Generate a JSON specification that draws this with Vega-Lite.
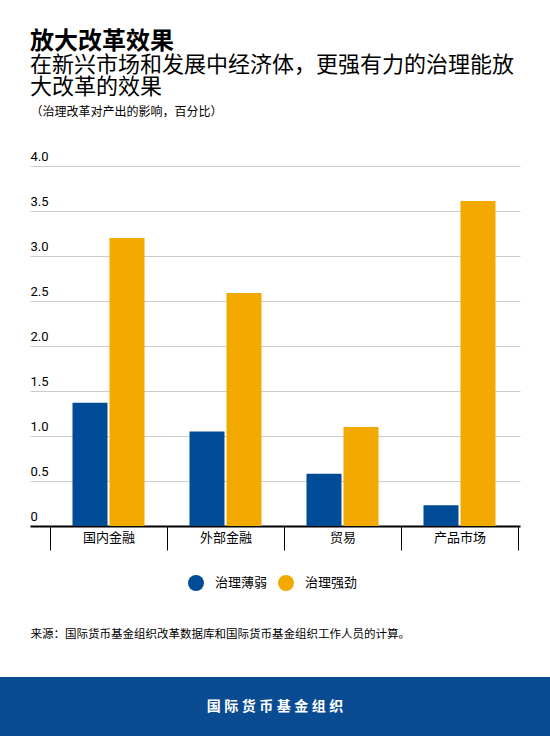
{
  "$schema": "https://vega.github.io/schema/vega-lite/v6.json",
  "padding": {"top": 30, "left": 0, "right": 0, "bottom": 0},
  "spacing": 37,
  "center": true,
  "config": {
    "font": "Roboto, 'Noto Sans CJK SC', sans-serif",
    "view": {"stroke": null}
  },
  "vconcat": [
    {
      "width": 490,
      "height": 360,
      "title": {
        "text": "放大改革效果",
        "subtitle": ["在新兴市场和发展中经济体，更强有力的治理能放", "大改革的效果"],
        "anchor": "start",
        "frame": "group",
        "fontSize": 24,
        "fontWeight": "bold",
        "color": "#000000",
        "subtitleFontSize": 22,
        "subtitleColor": "#000000",
        "subtitleLineHeight": 22,
        "subtitlePadding": 1,
        "offset": 7
      },
      "data": {
        "values": [
          {"category": "国内金融", "governance": "治理薄弱", "value": 1.37},
          {"category": "国内金融", "governance": "治理强劲", "value": 3.2},
          {"category": "外部金融", "governance": "治理薄弱", "value": 1.05},
          {"category": "外部金融", "governance": "治理强劲", "value": 2.59},
          {"category": "贸易", "governance": "治理薄弱", "value": 0.58},
          {"category": "贸易", "governance": "治理强劲", "value": 1.1},
          {"category": "产品市场", "governance": "治理薄弱", "value": 0.23},
          {"category": "产品市场", "governance": "治理强劲", "value": 3.61}
        ]
      },
      "mark": {"type": "bar"},
      "encoding": {
        "x": {
          "field": "category",
          "type": "nominal",
          "sort": ["国内金融", "外部金融", "贸易", "产品市场"],
          "scale": {"paddingInner": 0, "paddingOuter": 0.094, "align": 0.909},
          "axis": {
            "title": "来源：国际货币基金组织改革数据库和国际货币基金组织工作人员的计算。",
            "titleX": 0,
            "titleY": 108,
            "titleAlign": "left",
            "titleBaseline": "middle",
            "titleFontSize": 11.5,
            "titleFontWeight": "normal",
            "titleColor": "#000000",
            "labelAngle": 0,
            "labelFontSize": 13,
            "labelColor": "#000000",
            "labelBaseline": "top",
            "labelPadding": -19,
            "domainColor": "#000000",
            "domainWidth": 2,
            "tickBand": "extent",
            "tickSize": 24,
            "tickColor": "#000000",
            "tickWidth": 1
          }
        },
        "xOffset": {
          "field": "governance",
          "type": "nominal",
          "sort": ["治理薄弱", "治理强劲"],
          "scale": {"paddingInner": 0.054, "paddingOuter": 0.608}
        },
        "y": {
          "field": "value",
          "type": "quantitative",
          "scale": {"domain": [0, 4]},
          "axis": {
            "title": "（治理改革对产出的影响，百分比）",
            "titleAngle": 0,
            "titleX": 0,
            "titleY": -55,
            "titleAlign": "left",
            "titleBaseline": "middle",
            "titleFontSize": 12,
            "titleFontWeight": "normal",
            "titleColor": "#000000",
            "values": [0, 0.5, 1, 1.5, 2, 2.5, 3, 3.5, 4],
            "labelExpr": "datum.value == 0 ? '0' : format(datum.value, '.1f')",
            "labelAlign": "left",
            "labelBaseline": "bottom",
            "labelOffset": -3,
            "labelPadding": 0,
            "labelFontSize": 13,
            "labelColor": "#000000",
            "domain": false,
            "ticks": false,
            "grid": true,
            "gridColor": "#cccccc",
            "gridWidth": 1
          }
        },
        "color": {
          "field": "governance",
          "type": "nominal",
          "scale": {"domain": ["治理薄弱", "治理强劲"], "range": ["#004C97", "#F2A900"]},
          "legend": {
            "title": null,
            "orient": "none",
            "direction": "horizontal",
            "legendX": 188,
            "legendY": 409,
            "padding": 0,
            "symbolType": "circle",
            "symbolSize": 256,
            "symbolStrokeWidth": 0,
            "labelFontSize": 13,
            "labelColor": "#000000",
            "labelOffset": 11,
            "columnPadding": 10
          }
        }
      }
    },
    {
      "width": 550,
      "height": 60,
      "view": {"fill": "#0A4C92", "stroke": null},
      "data": {"values": [{"label": "国 际 货 币 基 金 组 织"}]},
      "mark": {"type": "text", "color": "#ffffff", "fontSize": 14, "fontWeight": "bold", "baseline": "middle", "align": "center"},
      "encoding": {
        "text": {"field": "label", "type": "nominal"}
      }
    }
  ]
}
